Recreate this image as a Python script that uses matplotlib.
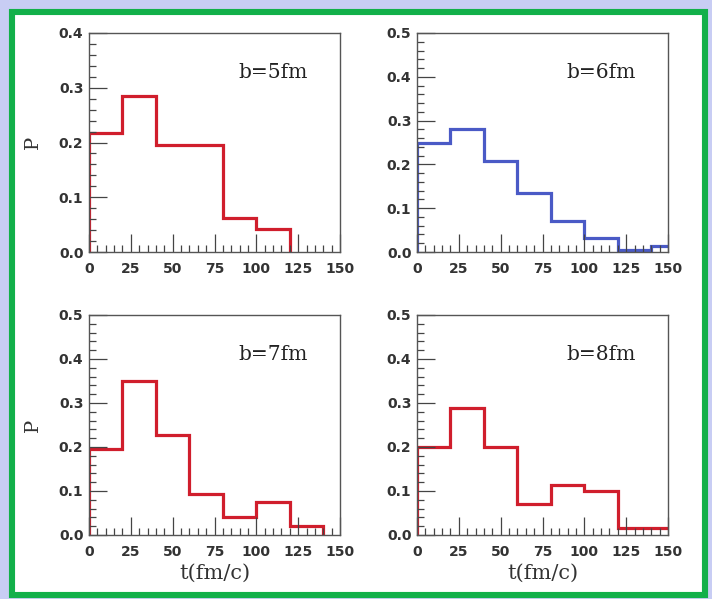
import matplotlib
matplotlib.use("Agg")
import matplotlib.pyplot as plt
import numpy as np
from matplotlib.patches import Rectangle
from matplotlib.ticker import MultipleLocator, FormatStrFormatter

# impact parameter panels
labels = ["b=5fm", "b=6fm", "b=7fm", "b=8fm"]

p_b5 = [0.217, 0.285, 0.196, 0.196, 0.062, 0.042]
edges_b5 = [0, 20, 40, 60, 80, 100, 120]

p_b6 = [0.248, 0.280, 0.208, 0.134, 0.070, 0.033, 0.005, 0.014]
edges_b6 = [0, 20, 40, 60, 80, 100, 120, 140, 160]

p_b7 = [0.195, 0.350, 0.227, 0.093, 0.041, 0.076, 0.020]
edges_b7 = [0, 20, 40, 60, 80, 100, 120, 140]

p_b8 = [0.200, 0.289, 0.200, 0.071, 0.113, 0.100, 0.016, 0.016]
edges_b8 = [0, 20, 40, 60, 80, 100, 120, 140, 160]

ymax = [0.4, 0.5, 0.5, 0.5]
xticks = [0, 25, 50, 75, 100, 125, 150]

red = "#d01e2c"
blue = "#4a5ac6"
colors = [red, blue, red, red]

W, H = 712, 599
fig = plt.figure(figsize=(W / 100, H / 100), dpi=100)
fig.patch.set_facecolor("#c8cdf4")

# white card with green frame
card = Rectangle((12 / W, 1 - 595 / H), 693 / W, 583 / H,
                 transform=fig.transFigure, facecolor="white",
                 edgecolor="#12b04a", linewidth=4.4, zorder=-10)
fig.patches.append(card)

pos = [
    (89, 33, 340, 252),
    (417, 33, 668, 252),
    (89, 315, 340, 535),
    (417, 315, 668, 535),
]
data = [(p_b5, edges_b5), (p_b6, edges_b6), (p_b7, edges_b7), (p_b8, edges_b8)]

for i, (l, t, r, b) in enumerate(pos):
    ax = fig.add_axes([l / W, 1 - b / H, (r - l) / W, (b - t) / H])
    ax.set_facecolor("none")
    vals, edges = data[i]
    ax.stairs(vals, edges, baseline=0, color=colors[i], linewidth=2.3)
    ax.set_xlim(0, 150)
    ax.set_ylim(0, ymax[i])
    ax.set_xticks(xticks)
    ax.xaxis.set_minor_locator(MultipleLocator(5))
    ax.yaxis.set_major_locator(MultipleLocator(0.1))
    ax.yaxis.set_minor_locator(MultipleLocator(0.02))
    ax.yaxis.set_major_formatter(FormatStrFormatter("%.1f"))
    ax.tick_params(which="both", direction="in", color="#444444")
    ax.tick_params(which="major", length=13, width=0.9)
    ax.tick_params(which="minor", length=5, width=0.9)
    ax.tick_params(axis="x", pad=7)
    ax.tick_params(axis="y", pad=4)
    for lab in ax.get_xticklabels() + ax.get_yticklabels():
        lab.set_fontfamily("DejaVu Sans")
        lab.set_fontweight("bold")
        lab.set_fontsize(10)
        lab.set_color("#333333")
    for s in ax.spines.values():
        s.set_color("#555555")
        s.set_linewidth(1.0)
    ax.text(0.735, 0.82, labels[i], transform=ax.transAxes, ha="center",
            va="center", family="DejaVu Serif", fontsize=14.5, color="#222222")
    if i % 2 == 0:
        ax.set_ylabel("P", family="DejaVu Serif", fontsize=14, color="#333333",
                      labelpad=12)
    if i >= 2:
        ax.set_xlabel("t(fm/c)", family="DejaVu Serif", fontsize=15,
                      color="#333333", labelpad=4)

fig.savefig("out.png", dpi=100, facecolor=fig.get_facecolor())
